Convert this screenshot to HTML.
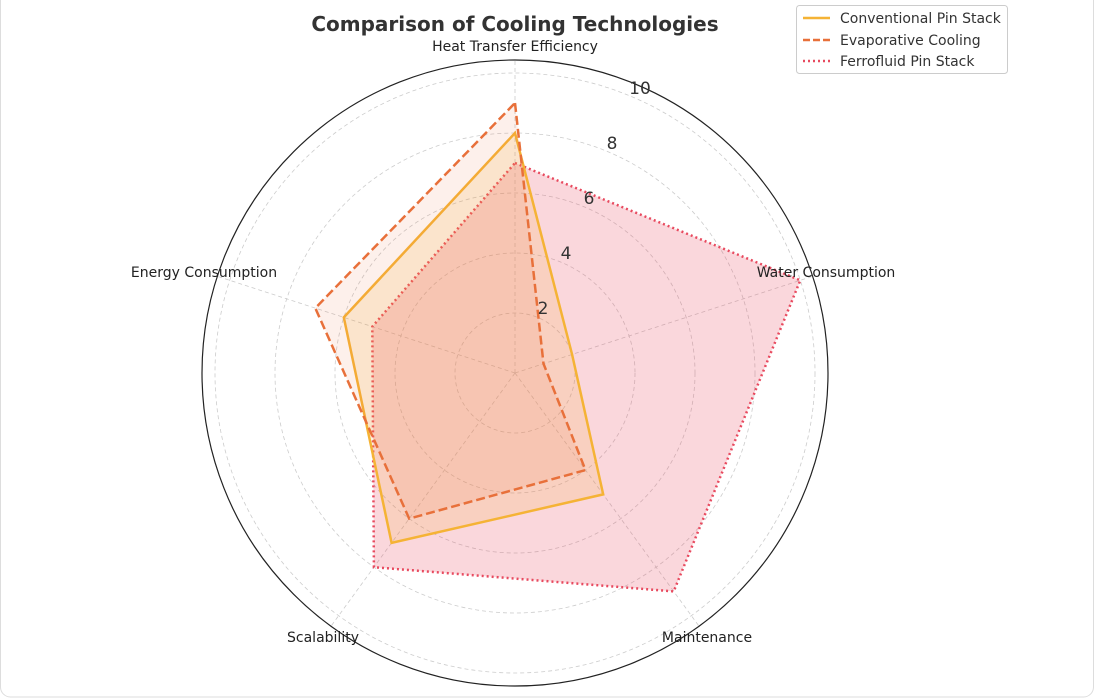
<!DOCTYPE html>
<html><head><meta charset="utf-8"><style>
html,body{margin:0;padding:0;background:#fff;}
svg{display:block;font-family:"DejaVu Sans","Liberation Sans",sans-serif;}
</style></head><body>
<svg width="1094" height="700" viewBox="0 0 1094 700">
<rect x="0.5" y="-10" width="1093" height="707" rx="10" fill="#fff" stroke="#ddd"/>
<g fill="none" stroke="#ccc" stroke-dasharray="4,3" stroke-width="0.8">
<circle cx="515" cy="373" r="60"/><circle cx="515" cy="373" r="120"/><circle cx="515" cy="373" r="180"/><circle cx="515" cy="373" r="240"/><circle cx="515" cy="373" r="300"/>
<line x1="515" y1="373" x2="515" y2="60"/>
<line x1="515" y1="373" x2="812.7" y2="276.3"/>
<line x1="515" y1="373" x2="699" y2="626.2"/>
<line x1="515" y1="373" x2="331" y2="626.2"/>
<line x1="515" y1="373" x2="217.3" y2="276.3"/>
</g>
<circle cx="515" cy="373" r="313" fill="none" stroke="#222" stroke-width="1.2"/>
<polygon points="515,163 800.3,280.3 673.7,591.4 373.9,567.2 372.3,326.6" fill="rgba(232,74,95,0.22)" stroke="#e84a5f" stroke-width="2.5" stroke-dasharray="2,3"/>
<polygon points="515,133 572.1,354.5 603.2,494.4 391.6,542.9 343.8,317.4" fill="rgba(245,179,53,0.17)" stroke="#f5b335" stroke-width="2.5"/>
<polygon points="515,103 543.5,363.7 585.5,470.1 409.2,518.6 315.3,308.1" fill="rgba(232,112,58,0.10)" stroke="#e8703a" stroke-width="2.5" stroke-dasharray="9,4"/>
<g font-size="17" fill="#333" text-anchor="middle">
<text x="543" y="314">2</text><text x="566" y="259">4</text><text x="589" y="204">6</text><text x="612" y="149">8</text><text x="640" y="94">10</text>
</g>
<g font-size="14" fill="#222" text-anchor="middle">
<text x="515" y="51">Heat Transfer Efficiency</text>
<text x="826" y="277">Water Consumption</text>
<text x="707" y="642">Maintenance</text>
<text x="323" y="642">Scalability</text>
<text x="204" y="277">Energy Consumption</text>
</g>
<text x="515" y="31" font-size="20" font-weight="bold" fill="#333" text-anchor="middle">Comparison of Cooling Technologies</text>
<rect x="796.5" y="5.5" width="211" height="68" rx="3" fill="#fff" stroke="#ccc"/>
<line x1="803" y1="18" x2="830" y2="18" stroke="#f5b335" stroke-width="2.5"/>
<line x1="803" y1="40" x2="830" y2="40" stroke="#e8703a" stroke-width="2.5" stroke-dasharray="7,3"/>
<line x1="803" y1="61" x2="830" y2="61" stroke="#e84a5f" stroke-width="2.5" stroke-dasharray="2,3"/>
<g font-size="14" fill="#333">
<text x="840" y="23">Conventional Pin Stack</text>
<text x="840" y="45">Evaporative Cooling</text>
<text x="840" y="66">Ferrofluid Pin Stack</text>
</g>
</svg>
</body></html>
